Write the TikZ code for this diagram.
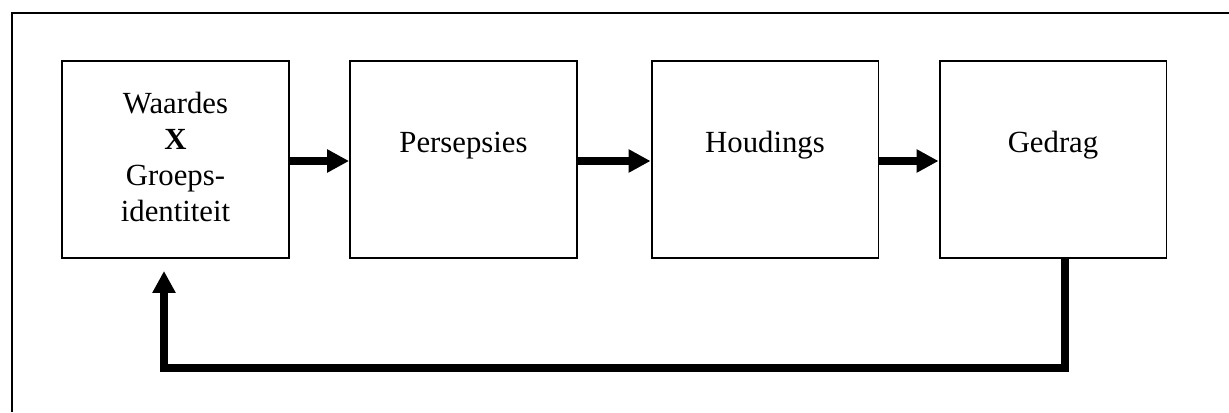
\documentclass[tikz,border=0pt]{standalone}
\usepackage{fontspec}
\setmainfont{Liberation Serif}
\usetikzlibrary{arrows.meta}

\tikzstyle{blok} = [draw, line width=1.1pt, minimum width=4.54cm, minimum height=3.94cm, inner sep=0pt]
\tikzstyle{tekst} = [font=\fontsize{17.5}{20.4}\selectfont, inner sep=0pt]
\tikzstyle{pyl} = [draw, line width=4.5pt, -{Triangle[length=12.5pt,width=12.5pt]}]

\begin{document}
\begin{tikzpicture}[x=0.02cm, y=-0.02cm]
		\useasboundingbox (0,0) rectangle (1229,412);
		\draw[line width=1.1pt] (1229,13) -- (12,13) -- (12,412); % raam
		\node [blok] (waardes) at (175.5,159.5) {};
		\node [blok] (persepsies) at (463.5,159.5) {};
		\node [blok] (houdings) at (765,159.5) {};
		\node [blok] (gedrag) at (1053,159.5) {};
		\node [tekst, align=center] (waardestekst) at (175.5,157) {Waardes\\\textbf{X}\\Groeps-\\identiteit};
		\node [tekst, anchor=base] (persepsiestekst) at (463.5,152) {Persepsies};
		\node [tekst, anchor=base] (houdingstekst) at (765,152) {Houdings};
		\node [tekst, anchor=base] (gedragtekst) at (1053,152) {Gedrag};
		\draw[pyl] ([yshift=-0.03cm]waardes.east) -- ([yshift=-0.03cm]persepsies.west);
		\draw[pyl] ([yshift=-0.03cm]persepsies.east) -- ([yshift=-0.03cm]houdings.west);
		\draw[pyl] ([yshift=-0.03cm]houdings.east) -- ([yshift=-0.03cm]gedrag.west);
		\coordinate (onder) at (1065,368); % terugvoer
		\draw[pyl] ([xshift=0.24cm]gedrag.south) -- (onder) -| ([xshift=-0.23cm,yshift=-0.24cm]waardes.south);
	\end{tikzpicture}
\end{document}
